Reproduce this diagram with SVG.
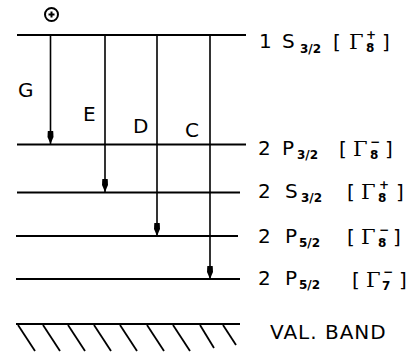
<svg xmlns="http://www.w3.org/2000/svg" width="412" height="354" viewBox="0 0 412 354">
<style>
.lvl{stroke:#000;stroke-width:2;fill:none}
.arr{stroke:#000;stroke-width:1.6;fill:none}
.t{font-family:"DejaVu Sans","Liberation Sans",sans-serif;font-size:20px;fill:#000}
.s{font-family:"DejaVu Sans","Liberation Sans",sans-serif;font-size:12px;font-weight:bold;fill:#000}
.g{font-family:"DejaVu Serif","Liberation Serif",serif;font-size:21px;fill:#000}
.h{stroke:#000;stroke-width:1.8}
</style>
<defs>
<marker id="ah" viewBox="0 0 14 7" refX="14" refY="3.5" markerWidth="14" markerHeight="7" markerUnits="userSpaceOnUse" orient="auto">
<path d="M14,3.5 L7,0.5 L1,0.8 L1,6.2 L7,6.5 Z" fill="#000"/>
</marker>
</defs>
<rect width="412" height="354" fill="#fff"/>
<g id="levels">
<g id="lvl-1S"><line class="lvl" x1="17" y1="35" x2="246" y2="35"/>
<text class="t" x="259" y="48">1</text><text class="t" x="282" y="48">S</text><text class="s" x="300" y="53">3/2</text>
<text class="t" x="333" y="49">[</text><text class="g" x="349" y="49">Γ</text><text class="s" x="366" y="39">+</text><text class="s" x="366" y="52">8</text><text class="t" x="382" y="49">]</text></g>
<g id="lvl-2P32"><line class="lvl" x1="17" y1="144.5" x2="246" y2="144.5"/>
<text class="t" x="258" y="155">2</text><text class="t" x="282" y="155">P</text><text class="s" x="297" y="159">3/2</text>
<text class="t" x="339" y="156">[</text><text class="g" x="353" y="156">Γ</text><text class="s" x="370" y="146">−</text><text class="s" x="370" y="159">8</text><text class="t" x="385" y="156">]</text></g>
<g id="lvl-2S32"><line class="lvl" x1="17" y1="192.5" x2="240" y2="192.5"/>
<text class="t" x="258" y="198">2</text><text class="t" x="285" y="198">S</text><text class="s" x="301" y="202">3/2</text>
<text class="t" x="347" y="199">[</text><text class="g" x="361" y="199">Γ</text><text class="s" x="379" y="189">+</text><text class="s" x="378" y="202">8</text><text class="t" x="396" y="199">]</text></g>
<g id="lvl-2P52a"><line class="lvl" x1="16" y1="236" x2="238" y2="236"/>
<text class="t" x="258" y="243">2</text><text class="t" x="285" y="243">P</text><text class="s" x="299" y="247">5/2</text>
<text class="t" x="347" y="244">[</text><text class="g" x="361" y="244">Γ</text><text class="s" x="379" y="234">−</text><text class="s" x="378" y="247">8</text><text class="t" x="393" y="244">]</text></g>
<g id="lvl-2P52b"><line class="lvl" x1="16" y1="279" x2="240" y2="279"/>
<text class="t" x="258" y="285">2</text><text class="t" x="285" y="285">P</text><text class="s" x="299" y="289">5/2</text>
<text class="t" x="352" y="287">[</text><text class="g" x="366" y="287">Γ</text><text class="s" x="383" y="276">−</text><text class="s" x="382" y="290">7</text><text class="t" x="399" y="287">]</text></g>
<g id="valband"><line class="lvl" x1="16" y1="324" x2="240" y2="324"/>
<g>
<line class="h" x1="18" y1="325" x2="35" y2="351"/><line class="h" x1="43" y1="325" x2="60" y2="351"/><line class="h" x1="68" y1="325" x2="85" y2="351"/><line class="h" x1="94" y1="325" x2="111" y2="351"/><line class="h" x1="120" y1="325" x2="137" y2="351"/><line class="h" x1="147" y1="325" x2="164" y2="351"/><line class="h" x1="173" y1="325" x2="190" y2="351"/><line class="h" x1="200" y1="325" x2="214" y2="348"/><line class="h" x1="223" y1="325" x2="236" y2="345"/>
</g>
<text class="t" x="270" y="339" letter-spacing="1">VAL. BAND</text></g>
</g>
<g id="hole"><circle cx="51.5" cy="14.5" r="6.5" fill="none" stroke="#000" stroke-width="2"/><path d="M48.5,14.5 H54.5 M51.5,11.5 V17.5" stroke="#000" stroke-width="2"/></g>
<g id="connectors">
<line class="arr" x1="50.5" y1="35" x2="50.5" y2="144" marker-end="url(#ah)"/>
<line class="arr" x1="105" y1="35" x2="105" y2="192" marker-end="url(#ah)"/>
<line class="arr" x1="157" y1="35" x2="157" y2="236" marker-end="url(#ah)"/>
<line class="arr" x1="210" y1="35" x2="210" y2="279" marker-end="url(#ah)"/>
</g>
<g id="labels">
<text class="t" x="18" y="97">G</text>
<text class="t" x="83" y="121">E</text>
<text class="t" x="133" y="133">D</text>
<text class="t" x="185" y="137">C</text>
</g>
</svg>
